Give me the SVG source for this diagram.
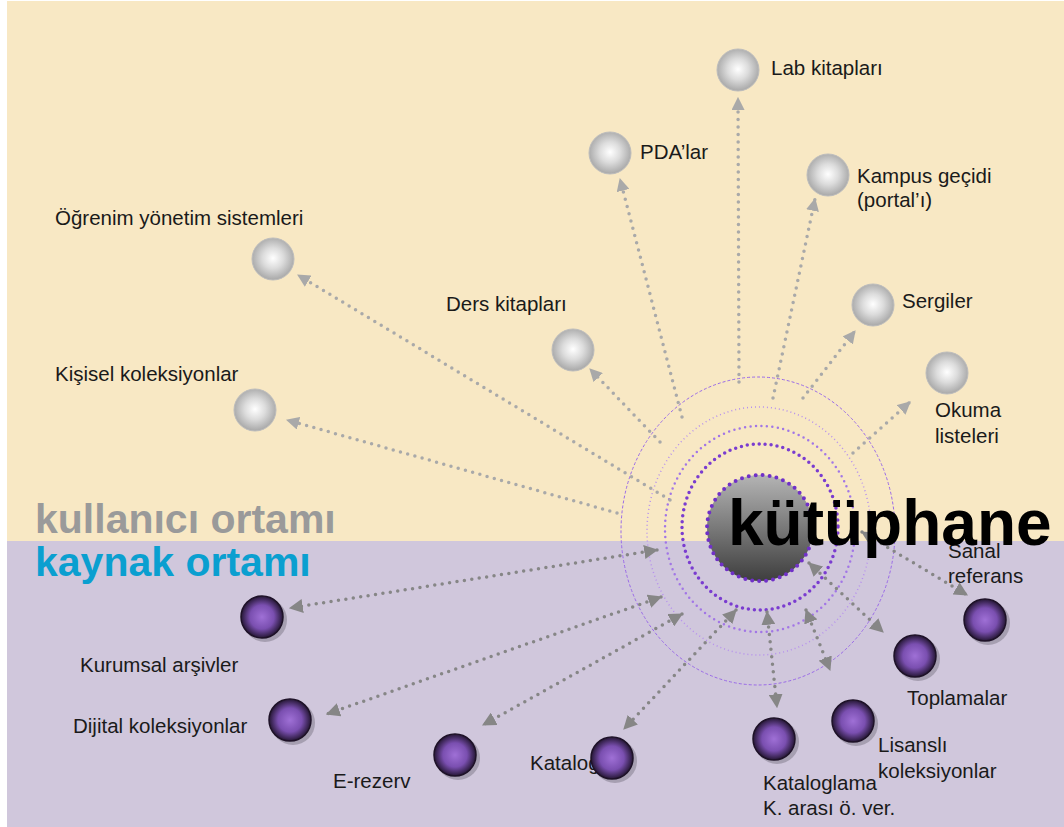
<svg xmlns="http://www.w3.org/2000/svg" width="1064" height="827" viewBox="0 0 1064 827">
<defs>
<style>
.lbl{font-family:"Liberation Sans",Arial,sans-serif;font-size:20.5px;fill:#1a1a1a}
.up{fill:none;stroke:#A9A9A9;stroke-width:3.5;stroke-linecap:round;stroke-dasharray:0 7.5}
.dn{fill:none;stroke:#868686;stroke-width:3.5;stroke-linecap:round;stroke-dasharray:0 7.5}
.gs{fill:url(#gGray);stroke:#bdbdbd;stroke-width:1}
.ps{fill:url(#gPurp);stroke:#1e1228;stroke-width:1.5}
.sh{fill:#8a8494;opacity:0.6}
</style>
<radialGradient id="gGray" cx="50%" cy="48%" r="55%">
<stop offset="0" stop-color="#ffffff"/>
<stop offset="0.45" stop-color="#dcdcdc"/>
<stop offset="1" stop-color="#a2a2a2"/>
</radialGradient>
<radialGradient id="gPurp" cx="50%" cy="50%" r="52%">
<stop offset="0" stop-color="#9f70d6"/>
<stop offset="0.55" stop-color="#7a4fb0"/>
<stop offset="0.85" stop-color="#3c2656"/>
<stop offset="1" stop-color="#1e1228"/>
</radialGradient>
<linearGradient id="gLib" x1="0" y1="0" x2="0" y2="1">
<stop offset="0" stop-color="#b4b4b4"/>
<stop offset="1" stop-color="#3e3e3e"/>
</linearGradient>
<marker id="aUp" viewBox="0 0 12 12" refX="11" refY="6" markerWidth="13" markerHeight="13" markerUnits="userSpaceOnUse" orient="auto-start-reverse">
<path d="M0,0 L12,6 L0,12 z" fill="#A9A9A9"/>
</marker>
<marker id="aDn" viewBox="0 0 12 12" refX="11" refY="6" markerWidth="14" markerHeight="14" markerUnits="userSpaceOnUse" orient="auto-start-reverse">
<path d="M0,0 L12,6 L0,12 z" fill="#868686"/>
</marker>
</defs>

<rect x="0" y="0" width="1064" height="827" fill="#ffffff"/>
<rect x="7" y="1" width="1057" height="540" fill="#F8E8C4"/>
<rect x="7" y="541" width="1057" height="286" fill="#D0C7DC"/>

<g id="rings" fill="none">
<ellipse cx="758" cy="531" rx="137" ry="154" stroke="#9a6ae8" stroke-width="1" stroke-dasharray="3 2"/>
<ellipse cx="759" cy="531" rx="112" ry="124" stroke="#b690ee" stroke-width="1.5" stroke-dasharray="1 3"/>
<ellipse cx="760" cy="529" rx="95" ry="103" stroke="#a276e6" stroke-width="2.5" stroke-linecap="round" stroke-dasharray="0 5.5"/>
<ellipse cx="760" cy="527" rx="78" ry="83" stroke="#7a3cd0" stroke-width="3.5" stroke-linecap="round" stroke-dasharray="0 6"/>
</g>

<g id="connectors">
<line class="up" x1="739" y1="382" x2="738" y2="98" marker-end="url(#aUp)"/>
<line class="up" x1="682" y1="417" x2="620" y2="179" marker-end="url(#aUp)"/>
<line class="up" x1="773" y1="398" x2="815" y2="199" marker-end="url(#aUp)"/>
<line class="up" x1="660" y1="442" x2="590" y2="369" marker-end="url(#aUp)"/>
<line class="up" x1="670" y1="500" x2="298" y2="275" marker-end="url(#aUp)"/>
<line class="up" x1="617" y1="513" x2="287" y2="420" marker-end="url(#aUp)"/>
<line class="up" x1="803" y1="398" x2="855" y2="331" marker-end="url(#aUp)"/>
<line class="up" x1="853" y1="453" x2="910" y2="402" marker-end="url(#aUp)"/>

<line class="dn" x1="657" y1="550" x2="290" y2="608" marker-start="url(#aDn)" marker-end="url(#aDn)"/>
<line class="dn" x1="661" y1="597" x2="327" y2="714" marker-start="url(#aDn)" marker-end="url(#aDn)"/>
<line class="dn" x1="682" y1="614" x2="483" y2="725" marker-start="url(#aDn)" marker-end="url(#aDn)"/>
<line class="dn" x1="736" y1="610" x2="624" y2="729" marker-start="url(#aDn)" marker-end="url(#aDn)"/>
<line class="dn" x1="767" y1="612" x2="777" y2="707" marker-start="url(#aDn)" marker-end="url(#aDn)"/>
<line class="dn" x1="806" y1="610" x2="830" y2="670" marker-start="url(#aDn)" marker-end="url(#aDn)"/>
<line class="dn" x1="809" y1="563" x2="883" y2="632" marker-start="url(#aDn)" marker-end="url(#aDn)"/>
<line class="dn" x1="862" y1="532" x2="967" y2="595" marker-start="url(#aDn)" marker-end="url(#aDn)"/>
</g>

<g id="n-lab"><circle class="gs" cx="738" cy="70" r="21"/><text class="lbl" x="771" y="75">Lab kitapları</text></g>
<g id="n-pda"><circle class="gs" cx="610" cy="153" r="21"/><text class="lbl" x="640" y="159">PDA’lar</text></g>
<g id="n-kampus"><circle class="gs" cx="828" cy="175" r="21"/><text class="lbl" x="857" y="183">Kampus geçidi</text><text class="lbl" x="857" y="207">(portal’ı)</text></g>
<g id="n-ogrenim"><circle class="gs" cx="273" cy="259" r="21"/><text class="lbl" x="55" y="225">Öğrenim yönetim sistemleri</text></g>
<g id="n-ders"><circle class="gs" cx="573" cy="350" r="21"/><text class="lbl" x="446" y="311">Ders kitapları</text></g>
<g id="n-kisisel"><circle class="gs" cx="255" cy="410" r="21"/><text class="lbl" x="55" y="381">Kişisel koleksiyonlar</text></g>
<g id="n-sergiler"><circle class="gs" cx="873" cy="305" r="21"/><text class="lbl" x="902" y="308">Sergiler</text></g>
<g id="n-okuma"><circle class="gs" cx="947" cy="373" r="21"/><text class="lbl" x="935" y="417">Okuma</text><text class="lbl" x="935" y="443">listeleri</text></g>

<g id="n-sanal"><circle class="sh" cx="988" cy="623" r="22"/><circle class="ps" cx="985" cy="620" r="21"/><text class="lbl" x="948" y="558">Sanal</text><text class="lbl" x="948" y="583">referans</text></g>
<g id="n-toplamalar"><circle class="sh" cx="918" cy="659" r="22"/><circle class="ps" cx="915" cy="656" r="21"/><text class="lbl" x="907" y="705">Toplamalar</text></g>
<g id="n-lisansli"><circle class="sh" cx="856" cy="724" r="22"/><circle class="ps" cx="853" cy="721" r="21"/><text class="lbl" x="878" y="752">Lisanslı</text><text class="lbl" x="878" y="778">koleksiyonlar</text></g>
<g id="n-kataloglama"><circle class="sh" cx="777" cy="742" r="22"/><circle class="ps" cx="774" cy="739" r="21"/><text class="lbl" x="763" y="790">Kataloglama</text><text class="lbl" x="763" y="815">K. arası ö. ver.</text></g>
<g id="n-katalog"><text class="lbl" x="530" y="770">Katalog</text><circle class="sh" cx="615" cy="761" r="22"/><circle class="ps" cx="612" cy="758" r="21"/></g>
<g id="n-erezerv"><circle class="sh" cx="458" cy="758" r="22"/><circle class="ps" cx="455" cy="755" r="21"/><text class="lbl" x="333" y="788">E-rezerv</text></g>
<g id="n-dijital"><circle class="sh" cx="293" cy="723" r="22"/><circle class="ps" cx="290" cy="720" r="21"/><text class="lbl" x="73" y="733">Dijital koleksiyonlar</text></g>
<g id="n-kurumsal"><circle class="sh" cx="265" cy="620" r="22"/><circle class="ps" cx="262" cy="617" r="21"/><text class="lbl" x="80" y="672">Kurumsal arşivler</text></g>

<g id="zones">
<text x="35" y="533" font-family="'Liberation Sans',Arial,sans-serif" font-weight="bold" font-size="41" fill="#9a9a9a">kullanıcı ortamı</text>
<text x="35" y="576" font-family="'Liberation Sans',Arial,sans-serif" font-weight="bold" font-size="41" fill="#0a9fd0">kaynak ortamı</text>
</g>

<g id="n-kutuphane">
<circle cx="760" cy="528" r="53" fill="url(#gLib)" stroke="#7030c8" stroke-width="4" stroke-linecap="round" stroke-dasharray="0 7"/>
<text x="728" y="545" font-family="'Liberation Sans',Arial,sans-serif" font-weight="bold" font-size="64" fill="#000000">kütüphane</text>
</g>
</svg>
